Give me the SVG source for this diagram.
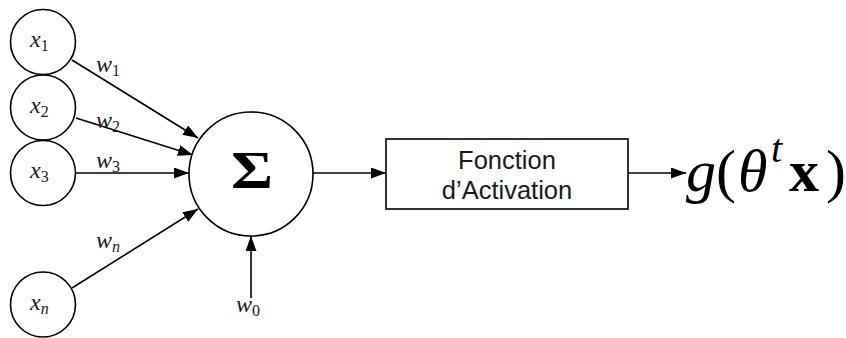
<svg xmlns="http://www.w3.org/2000/svg" width="846" height="338" viewBox="0 0 846 338">
<style>
.node{fill:#fff;stroke:#000;stroke-width:1.6}
.edge{stroke:#000;stroke-width:1.6;fill:none;marker-end:url(#ah)}
.m{font-family:"Liberation Serif","DejaVu Serif",serif;font-style:italic;font-size:24px;fill:#1a1a1a}
.sub{font-style:normal;font-size:16px}
.subi{font-style:italic;font-size:16px}
.lbl{font-family:"Liberation Sans",Arial,sans-serif;font-size:25.5px;fill:#1a1a1a;text-anchor:middle}
</style>
<defs>
<marker id="ah" markerUnits="userSpaceOnUse" markerWidth="16" markerHeight="12" refX="15" refY="5.5" orient="auto">
<path d="M0,0 L15,5.5 L0,11 z" fill="#000"/>
</marker>
</defs>
<g id="connectors">
<line class="edge" x1="72" y1="60" x2="198" y2="138"/>
<line class="edge" x1="76" y1="118" x2="193" y2="155"/>
<line class="edge" x1="76" y1="173" x2="189" y2="173"/>
<line class="edge" x1="72" y1="288" x2="198" y2="209"/>
<line class="edge" x1="251" y1="298" x2="251" y2="236"/>
<line class="edge" x1="313" y1="173" x2="386" y2="173"/>
<line class="edge" x1="628" y1="173" x2="686" y2="173"/>
<text class="m" x="96" y="72">w<tspan class="sub" dy="4">1</tspan></text>
<text class="m" x="96" y="128">w<tspan class="sub" dy="4">2</tspan></text>
<text class="m" x="96" y="168">w<tspan class="sub" dy="4">3</tspan></text>
<text class="m" x="96" y="248">w<tspan class="subi" dy="4">n</tspan></text>
<text class="m" x="236" y="312">w<tspan class="sub" dy="4">0</tspan></text>
</g>
<g id="x1"><circle class="node" cx="43" cy="42" r="32.5"/><text class="m" x="30" y="47">x<tspan class="sub" dy="4">1</tspan></text></g>
<g id="x2"><circle class="node" cx="43" cy="107.5" r="32.5"/><text class="m" x="30" y="113">x<tspan class="sub" dy="4">2</tspan></text></g>
<g id="x3"><circle class="node" cx="43" cy="173" r="32.5"/><text class="m" x="30" y="178">x<tspan class="sub" dy="4">3</tspan></text></g>
<g id="xn"><circle class="node" cx="43" cy="304.5" r="32.5"/><text class="m" x="30" y="310">x<tspan class="subi" dy="4">n</tspan></text></g>
<g id="sum"><circle class="node" cx="251" cy="174" r="62"/><text x="252" y="188" font-family="'Liberation Serif','DejaVu Serif',serif" font-weight="bold" font-size="53" text-anchor="middle" textLength="42" lengthAdjust="spacingAndGlyphs">Σ</text></g>
<g id="activation"><rect class="node" x="386" y="139" width="242" height="70"/><text class="lbl" x="507" y="169">Fonction</text><text class="lbl" x="507" y="199">d’Activation</text></g>
<g id="output" font-family="'Liberation Serif','DejaVu Serif',serif" font-size="60" fill="#000">
<text x="686" y="191" font-style="italic">g</text>
<text x="716" y="191">(</text>
<text x="738" y="191" font-style="italic">θ</text>
<text x="771" y="162" font-style="italic" font-size="40">t</text>
<text x="789" y="191" font-weight="bold">x</text>
<text x="826" y="191">)</text>
</g>
</svg>
